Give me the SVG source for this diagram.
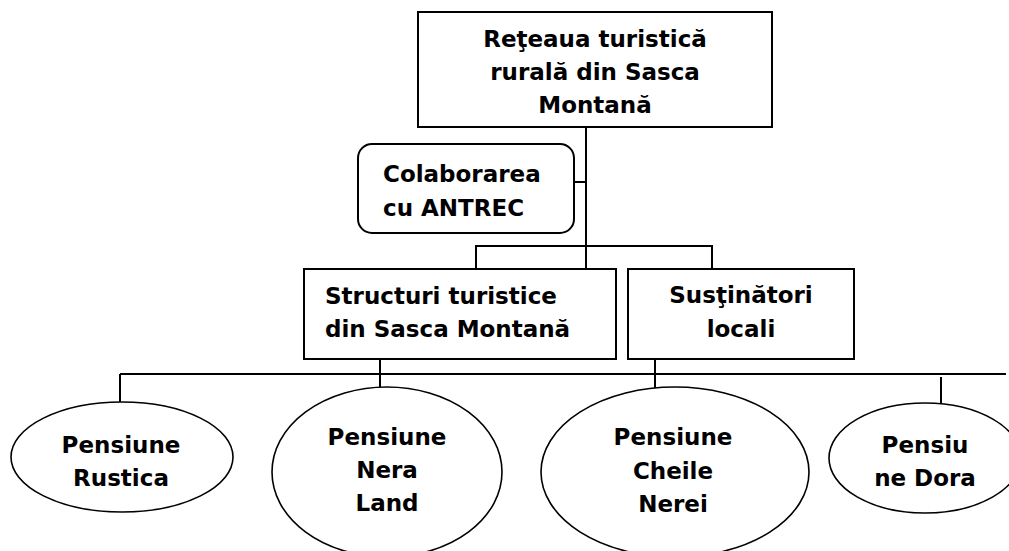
<svg xmlns="http://www.w3.org/2000/svg" width="1009" height="551" viewBox="0 0 1009 551">
  <style>
    .box { fill: #ffffff; stroke: #000000; stroke-width: 2; }
    .oval { fill: #ffffff; stroke: #000000; stroke-width: 1.6; }
    .wire { fill: none; stroke: #000000; stroke-width: 2; }
    text { font-family: "DejaVu Sans", Verdana, sans-serif; font-weight: bold; font-size: 23px; fill: #000000; }
    .mid { text-anchor: middle; }
  </style>
  <rect width="1009" height="551" fill="#ffffff"/>

  <!-- connectors -->
  <g id="connectors">
    <line class="wire" x1="586" y1="127" x2="586" y2="269"/>
    <line class="wire" x1="574" y1="182" x2="586" y2="182"/>
    <polyline class="wire" points="476,269 476,246 712,246 712,269"/>
    <line class="wire" x1="380" y1="347" x2="380" y2="388"/>
    <line class="wire" x1="655" y1="359" x2="655" y2="388"/>
    <line class="wire" x1="120" y1="374" x2="1006" y2="374"/>
    <line class="wire" x1="120" y1="374" x2="120" y2="402"/>
    <line class="wire" x1="941" y1="377" x2="941" y2="404"/>
  </g>

  <g id="retea">
    <rect class="box" x="418" y="12" width="354" height="115"/>
    <text class="mid" x="595" y="47">Reţeaua turistică</text>
    <text class="mid" x="595" y="80">rurală din Sasca</text>
    <text class="mid" x="595" y="113">Montană</text>
  </g>

  <g id="antrec">
    <rect class="box" x="358" y="144" width="216" height="89" rx="14" ry="14"/>
    <text x="383" y="182">Colaborarea</text>
    <text x="383" y="216">cu ANTREC</text>
  </g>

  <g id="structuri">
    <rect class="box" x="304" y="269" width="312" height="90"/>
    <text x="325" y="304">Structuri turistice</text>
    <text x="325" y="337">din Sasca Montană</text>
  </g>

  <g id="sustinatori">
    <rect class="box" x="628" y="269" width="226" height="90"/>
    <text class="mid" x="741" y="303">Susţinători</text>
    <text class="mid" x="741" y="337">locali</text>
  </g>

  <g id="rustica">
    <ellipse class="oval" cx="122" cy="457" rx="111" ry="55"/>
    <text class="mid" x="121" y="453">Pensiune</text>
    <text class="mid" x="121" y="486">Rustica</text>
  </g>

  <g id="nera-land">
    <ellipse class="oval" cx="387" cy="472" rx="115" ry="85"/>
    <text class="mid" x="387" y="445">Pensiune</text>
    <text class="mid" x="387" y="478">Nera</text>
    <text class="mid" x="387" y="511">Land</text>
  </g>

  <g id="cheile-nerei">
    <ellipse class="oval" cx="675" cy="472" rx="134" ry="85"/>
    <text class="mid" x="673" y="445">Pensiune</text>
    <text class="mid" x="673" y="479">Cheile</text>
    <text class="mid" x="673" y="512">Nerei</text>
  </g>

  <g id="dora">
    <ellipse class="oval" cx="925" cy="458" rx="96" ry="55"/>
    <text class="mid" x="925" y="453">Pensiu</text>
    <text class="mid" x="925" y="486">ne Dora</text>
  </g>
</svg>
